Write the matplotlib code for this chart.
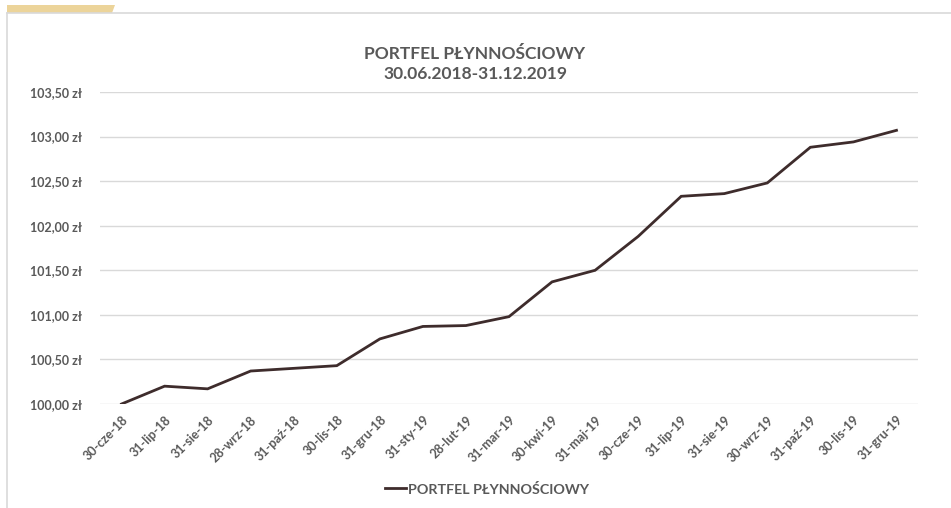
import matplotlib.pyplot as plt
from matplotlib.patches import Polygon
from matplotlib.lines import Line2D

# data
dates = ['30-cze-18', '31-lip-18', '31-sie-18', '28-wrz-18', '31-paź-18', '30-lis-18',
         '31-gru-18', '31-sty-19', '28-lut-19', '31-mar-19', '30-kwi-19', '31-maj-19',
         '30-cze-19', '31-lip-19', '31-sie-19', '30-wrz-19', '31-paź-19', '30-lis-19',
         '31-gru-19']
values = [100.00, 100.20, 100.17, 100.37, 100.40, 100.43,
          100.73, 100.87, 100.88, 100.98, 101.37, 101.50,
          101.88, 102.33, 102.36, 102.48, 102.88, 102.94,
          103.07]
yticks = [100.0, 100.5, 101.0, 101.5, 102.0, 102.5, 103.0, 103.5]
series_name = 'PORTFEL PŁYNNOŚCIOWY'
title = 'PORTFEL PŁYNNOŚCIOWY\n30.06.2018-31.12.2019'

plt.rcParams['font.family'] = ['Lato', 'DejaVu Sans']
txt = '#595959'
line_col = '#3e2c2c'
grid_col = '#d9d9d9'

W, H = 951, 508
fig = plt.figure(figsize=(W / 100, H / 100), dpi=100)

# frame and gold tab in pixel coords
def px(x, y):
    return (x / W, 1 - y / H)

fig.add_artist(Line2D([7 / W, 1], [1 - 13 / H] * 2, color=grid_col, lw=1.2, transform=fig.transFigure))
fig.add_artist(Line2D([7 / W] * 2, [1 - 13 / H, 0], color=grid_col, lw=1.2, transform=fig.transFigure))
fig.add_artist(Polygon([px(7, 5), px(115, 5), px(112, 13), px(7, 13)], closed=True,
                       facecolor='#ecd49a', edgecolor='none', transform=fig.transFigure))

ax = fig.add_axes([100 / W, 1 - 404 / H, 818 / W, 312 / H])
x = list(range(len(dates)))
ax.plot(x, values, color=line_col, lw=2.0, solid_joinstyle='miter', label=series_name)

ax.set_xlim(-0.5, len(dates) - 0.5)
ax.set_ylim(yticks[0], yticks[-1])
ax.set_yticks(yticks)
ax.set_yticklabels([f'{v:.2f}'.replace('.', ',') + ' zł' for v in yticks])
ax.set_xticks(x)
ax.set_xticklabels(dates, rotation=45, ha='right', rotation_mode='anchor')
ax.grid(axis='y', color=grid_col, lw=1.0)
ax.set_axisbelow(True)
for s in ax.spines.values():
    s.set_visible(False)
ax.tick_params(axis='both', length=0, colors=txt, labelsize=9)
ax.tick_params(axis='y', pad=13)
ax.tick_params(axis='x', pad=7)
for lab in ax.get_xticklabels() + ax.get_yticklabels():
    lab.set_fontweight('bold')

fig.text(475 / W, 1 - 64 / H, title, ha='center', va='center', fontsize=12.5,
         fontweight='bold', color=txt, linespacing=1.35)

leg = fig.legend(loc='center', bbox_to_anchor=(487 / W, 1 - 489 / H), frameon=False,
                 handlelength=1.5, handletextpad=0.15, fontsize=10.3)
for t in leg.get_texts():
    t.set_color(txt)
    t.set_fontweight('bold')

fig.savefig('out.png', dpi=100)
